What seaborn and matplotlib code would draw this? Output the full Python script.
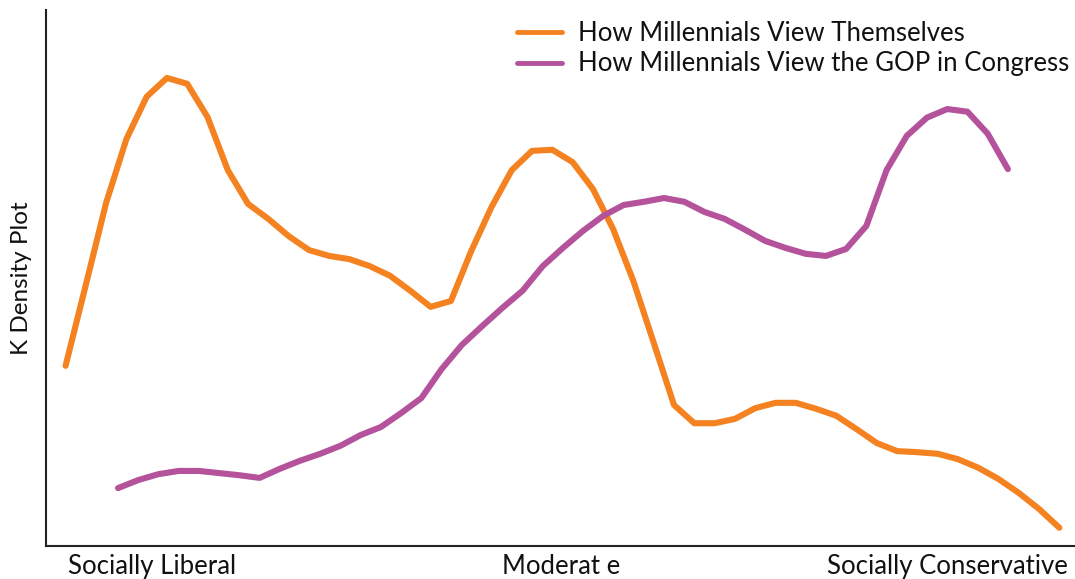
import numpy as np
import pandas as pd
import matplotlib
matplotlib.use("Agg")
import matplotlib.pyplot as plt
import seaborn as sns

# ---- data ----
series_names = ["How Millennials View Themselves", "How Millennials View the GOP in Congress"]

self_x = np.linspace(1.9, 98.5, 50)
self_y = [33.6, 48.7, 64.0, 75.9, 83.8, 87.3, 86.2, 80.0, 70.1, 63.8,
          61.0, 57.8, 55.2, 54.1, 53.5, 52.2, 50.4, 47.6, 44.6, 45.7,
          55.0, 63.2, 70.1, 73.7, 73.9, 71.6, 66.6, 59.1, 49.4, 37.9,
          26.3, 22.9, 22.9, 23.7, 25.7, 26.7, 26.7, 25.6, 24.3, 21.8,
          19.2, 17.7, 17.5, 17.2, 16.2, 14.6, 12.5, 9.9, 6.9, 3.4]

gop_x = np.linspace(7.0, 93.5, 45)
gop_y = [10.8, 12.3, 13.4, 14.0, 14.0, 13.6, 13.2, 12.7, 14.4, 15.9,
         17.2, 18.7, 20.7, 22.2, 24.8, 27.6, 33.0, 37.5, 41.0, 44.4,
         47.6, 52.2, 55.6, 58.8, 61.6, 63.6, 64.2, 64.9, 64.2, 62.3,
         61.0, 59.0, 56.9, 55.6, 54.5, 54.1, 55.4, 59.7, 70.1, 76.5,
         79.9, 81.5, 81.0, 76.9, 70.3]

tick_pos = [10.3, 50.1, 87.6]
tick_labels = ["Socially Liberal", "Moderat e", "Socially Conservative"]
colors = ["#F58220", "#B5529C"]

df = pd.concat([
    pd.DataFrame({"x": self_x, "y": self_y, "series": series_names[0]}),
    pd.DataFrame({"x": gop_x, "y": gop_y, "series": series_names[1]}),
], ignore_index=True)

sns.set_theme(style="white")
plt.rcParams["font.family"] = ["Lato", "DejaVu Sans"]

fig = plt.figure(figsize=(10.75, 5.79), dpi=100)
ax = fig.add_axes([0.0428, 0.057, 0.957, 0.926])

sns.lineplot(data=df, x="x", y="y", hue="series", palette=colors,
             linewidth=4.4, ax=ax, sort=False, estimator=None)
for ln in ax.get_lines():
    ln.set_solid_capstyle("round")
    ln.set_solid_joinstyle("round")

ax.set_xlim(0, 100)
ax.set_ylim(0, 100)
ax.set_xticks(tick_pos)
ax.set_xticklabels(tick_labels, fontsize=18.5, color="#111111")
ax.set_yticks([])
ax.tick_params(axis="x", length=0, pad=6)
ax.set_xlabel("")
ax.set_ylabel("K Density Plot", fontsize=17.5, color="#111111", labelpad=10)

for s in ["top", "right"]:
    ax.spines[s].set_visible(False)
for s in ["left", "bottom"]:
    ax.spines[s].set_color("#222222")
    ax.spines[s].set_linewidth(1.5)

leg = ax.legend(loc="upper right", bbox_to_anchor=(0.995, 0.964),
                bbox_transform=fig.transFigure, frameon=False,
                fontsize=18.5, handlelength=1.75, handletextpad=0.65,
                labelspacing=0.22, borderaxespad=0.0, borderpad=0.0)
for h in leg.get_lines():
    h.set_linewidth(3.5)
for t in leg.get_texts():
    t.set_color("#111111")

fig.savefig("out.png", dpi=100)
